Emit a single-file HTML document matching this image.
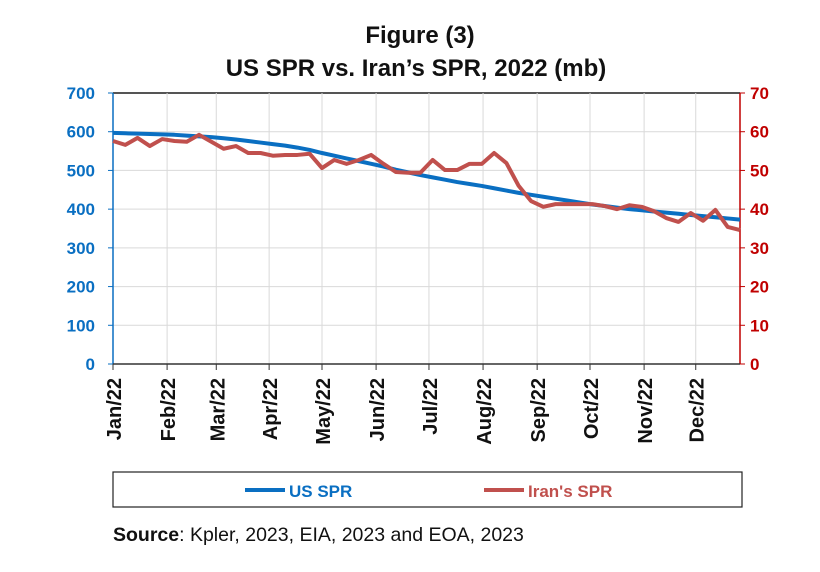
<!DOCTYPE html>
<html><head><meta charset="utf-8"><style>
body{margin:0;background:#fff;width:820px;height:567px;overflow:hidden;font-family:"Liberation Sans",sans-serif}
</style></head><body>
<svg id="chart" width="820" height="567" xmlns="http://www.w3.org/2000/svg" font-family="Liberation Sans, sans-serif">
<text x="420" y="43" text-anchor="middle" font-size="24" font-weight="bold" fill="#111">Figure (3)</text>
<text x="416" y="76" text-anchor="middle" font-size="24" font-weight="bold" fill="#111">US SPR vs. Iran’s SPR, 2022 (mb)</text>
<g id="grid"></g><g id="axes"></g><g id="series"></g>
<rect x="113" y="472" width="629" height="35" fill="none" stroke="#222" stroke-width="1.2"/>
<g><line x1="245" y1="490" x2="285" y2="490" stroke="#0a6fc2" stroke-width="4"/><text x="289" y="497" font-size="17" font-weight="bold" fill="#0a6fc2">US SPR</text></g>
<g><line x1="484" y1="490" x2="524" y2="490" stroke="#c0504d" stroke-width="4"/><text x="528" y="497" font-size="17" font-weight="bold" fill="#c0504d">Iran's SPR</text></g>
<text x="113" y="541" font-size="19.5" fill="#111"><tspan font-weight="bold">Source</tspan>: Kpler, 2023, EIA, 2023 and EOA, 2023</text>
</svg>
<script>
const months=["Jan/22","Feb/22","Mar/22","Apr/22","May/22","Jun/22","Jul/22","Aug/22","Sep/22","Oct/22","Nov/22","Dec/22"];
const monthWeek=[0,4.4,8.4,12.7,17,21.4,25.7,30.1,34.5,38.8,43.2,47.4];
const leftTicks=[0,100,200,300,400,500,600,700];
const rightTicks=[0,10,20,30,40,50,60,70];
const usSPR=[597,596,595,594,593,592,590,588,586,583,580,576,572,568,564,559,553,545,538,531,524,517,510,502,495,488,482,476,470,465,460,454,448,442,437,432,427,422,417,412,408,404,400,397,394,391,388,385,382,379,376,373];
const iranSPR=[57.6,56.6,58.4,56.3,58.1,57.6,57.4,59.2,57.4,55.6,56.3,54.5,54.5,53.8,54,54,54.3,50.6,52.7,51.7,52.7,54,51.7,49.6,49.4,49.4,52.7,50.1,50.1,51.7,51.7,54.5,51.9,46,42.1,40.6,41.3,41.3,41.3,41.3,40.8,40,41,40.6,39.5,37.7,36.7,39,37,39.8,35.4,34.6];
const X0=113,X1=740,Y0=364,Y1=93,NS="http://www.w3.org/2000/svg";
const x=i=>X0+i*(X1-X0)/(usSPR.length-1);
const yL=v=>Y0-v/700*(Y0-Y1);
const yR=v=>Y0-v/70*(Y0-Y1);
function mk(t,a,p){const e=document.createElementNS(NS,t);for(const k in a)e.setAttribute(k,a[k]);p.appendChild(e);return e;}
const grid=document.getElementById('grid'),axes=document.getElementById('axes'),ser=document.getElementById('series');
leftTicks.forEach((v,i)=>{
 const g=mk('line',{x1:X0,x2:X1,y1:yL(v),y2:yL(v),stroke:i==leftTicks.length-1?'#555':'#d9d9d9','stroke-width':i==leftTicks.length-1?2:1},grid);
 
 
 const t=mk('text',{x:95,y:yL(v)+6,'text-anchor':'end','font-size':17,'font-weight':'bold',fill:'#0a6fc2'},axes);t.textContent=v;
 
 
 mk('line',{x1:X0-5,x2:X0,y1:yL(v),y2:yL(v),stroke:'#0a6fc2'},axes);
});
rightTicks.forEach(v=>{
 const t=mk('text',{x:750,y:yR(v)+6,'font-size':17,'font-weight':'bold',fill:'#c00000'},axes);t.textContent=v;
 
 
 mk('line',{x1:X1,x2:X1+5,y1:yR(v),y2:yR(v),stroke:'#c00000'},axes);
});
months.forEach((m,i)=>{
 const px=x(monthWeek[i]);
 if(i>0){const g=mk('line',{x1:px,x2:px,y1:Y1,y2:Y0,stroke:'#d9d9d9'},grid);
 
 }
 mk('line',{x1:px,x2:px,y1:Y0,y2:Y0+6,stroke:'#333'},axes);
 const t=mk('text',{x:0,y:0,'text-anchor':'end','font-size':20,'font-weight':'bold',fill:'#111',transform:`translate(${px+8},378) rotate(-90)`},axes);
 t.textContent=m;
 
 
});
const la=mk('line',{x1:X0,x2:X0,y1:Y1,y2:Y0,stroke:'#0a6fc2','stroke-width':1.5},axes);

const ra=mk('line',{x1:X1,x2:X1,y1:Y1,y2:Y0,stroke:'#c00000','stroke-width':1.5},axes);

const xa=mk('line',{x1:X0,x2:X1,y1:Y0,y2:Y0,stroke:'#333','stroke-width':1.5},axes);

const p1=mk('polyline',{points:usSPR.map((v,i)=>x(i)+','+yL(v)).join(' '),fill:'none',stroke:'#0a6fc2','stroke-width':4,'stroke-linejoin':'round'},ser);


const p2=mk('polyline',{points:iranSPR.map((v,i)=>x(i)+','+yR(v)).join(' '),fill:'none',stroke:'#c0504d','stroke-width':4,'stroke-linejoin':'round'},ser);


</script>
</body></html>
